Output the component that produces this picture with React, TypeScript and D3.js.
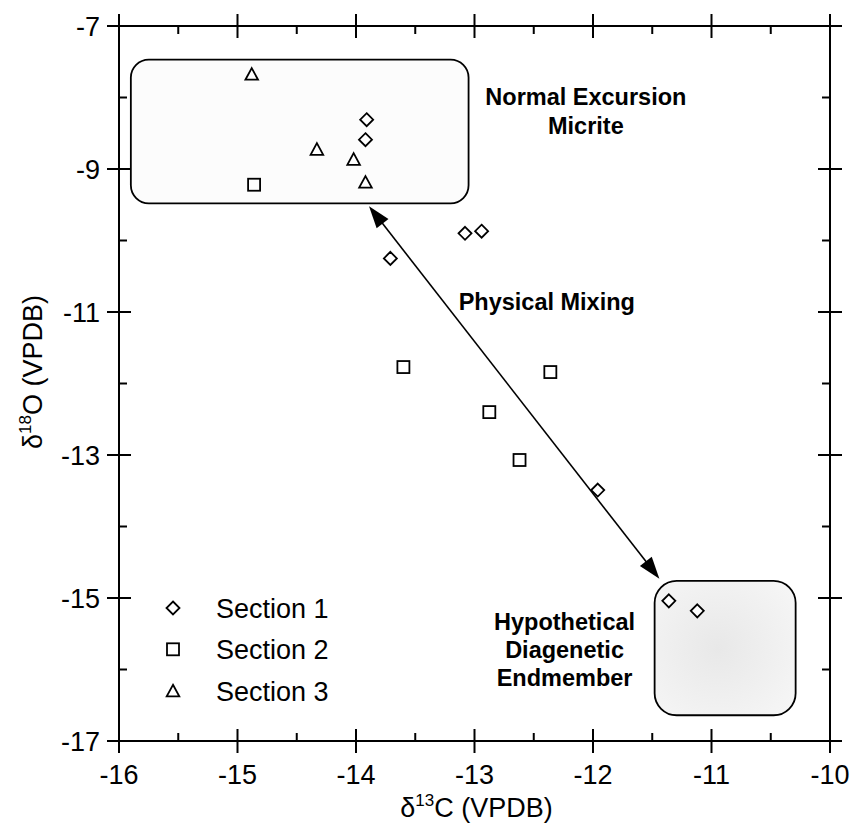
import React from "react";
import * as d3 from "d3";

// ---- data ----
const section1X = [-13.91, -13.92, -13.08, -12.94, -13.71, -11.96, -11.36, -11.12];
const section1Y = [-8.31, -8.59, -9.9, -9.87, -10.25, -13.49, -15.04, -15.18];
const section2X = [-14.86, -13.6, -12.36, -12.875, -12.62];
const section2Y = [-9.22, -11.77, -11.84, -12.4, -13.07];
const section3X = [-14.88, -14.33, -14.02, -13.92];
const section3Y = [-7.67, -8.72, -8.86, -9.18];

const seriesNames = ["Section 1", "Section 2", "Section 3"];
const xTicks = [-16, -15, -14, -13, -12, -11, -10];
const yTicks = [-7, -9, -11, -13, -15, -17];
const xMinor = [-15.5, -14.5, -13.5, -12.5, -11.5, -10.5];
const yMinor = [-8, -10, -12, -14, -16];

// annotation boxes in data coords [x1, x2, yTop, yBottom]
const boxMicrite = [-15.9, -13.05, -7.47, -9.48];
const boxEndmember = [-11.48, -10.29, -14.76, -16.64];
// mixing arrow endpoints [x1, y1, x2, y2]
const mixingArrow = [-13.89, -9.52, -11.44, -14.73];

const labelNormal = ["Normal Excursion", "Micrite"];
const labelEndmember = ["Hypothetical", "Diagenetic", "Endmember"];
const labelMixing = "Physical Mixing";

const W = 851;
const H = 826;
const FONT = "'Liberation Sans', Arial, Helvetica, sans-serif";

function Marker({ kind, x, y }: { kind: number; x: number; y: number }) {
  const sw = 1.8;
  if (kind === 0) {
    const r = 6.5;
    return (
      <path
        d={`M${x},${y - r}L${x + r},${y}L${x},${y + r}L${x - r},${y}Z`}
        fill="white"
        stroke="black"
        strokeWidth={sw}
      />
    );
  }
  if (kind === 1) {
    const s = 12;
    return (
      <rect x={x - s / 2} y={y - s / 2} width={s} height={s} fill="white" stroke="black" strokeWidth={sw} />
    );
  }
  const hw = 6.3;
  const hh = 5.8;
  return (
    <path
      d={`M${x},${y - hh}L${x + hw},${y + hh}L${x - hw},${y + hh}Z`}
      fill="white"
      stroke="black"
      strokeWidth={sw}
    />
  );
}

export default function App() {
  const x = d3.scaleLinear().domain([-16, -10]).range([119, 830]);
  const y = d3.scaleLinear().domain([-17, -7]).range([741, 26]);

  const [x0, x1] = x.range();
  const [y0, y1] = y.range(); // y0 bottom, y1 top

  const series = [
    section1X.map((v, i) => [v, section1Y[i]]),
    section2X.map((v, i) => [v, section2Y[i]]),
    section3X.map((v, i) => [v, section3Y[i]]),
  ];

  const ax = x(mixingArrow[0]);
  const ay = y(mixingArrow[1]);
  const bx = x(mixingArrow[2]);
  const by = y(mixingArrow[3]);
  const len = Math.hypot(bx - ax, by - ay);
  const ux = (bx - ax) / len;
  const uy = (by - ay) / len;
  const headL = 22;
  const headW = 7.5;
  const head = (tx: number, ty: number, dx: number, dy: number) => {
    const bxp = tx - dx * headL;
    const byp = ty - dy * headL;
    return `M${tx},${ty}L${bxp - dy * headW},${byp + dx * headW}L${bxp + dy * headW},${byp - dx * headW}Z`;
  };

  const major = 12;
  const minor = 8;
  const axisSW = 2;

  return (
    <svg
      width={W}
      height={H}
      style={{ position: "absolute", left: 0, top: 0, background: "white" }}
      fontFamily={FONT}
    >
      <defs>
        <radialGradient id="stip" cx="0.45" cy="0.5" r="0.7">
          <stop offset="0%" stopColor="#e8e8e8" />
          <stop offset="100%" stopColor="#f6f6f6" />
        </radialGradient>
      </defs>
      <rect x={0} y={0} width={W} height={H} fill="white" />

      {/* boxes */}
      <rect
        x={x(boxMicrite[0])}
        y={y(boxMicrite[2])}
        width={x(boxMicrite[1]) - x(boxMicrite[0])}
        height={y(boxMicrite[3]) - y(boxMicrite[2])}
        rx={18}
        ry={18}
        fill="#fcfcfc"
        stroke="black"
        strokeWidth={1.8}
      />
      <rect
        x={x(boxEndmember[0])}
        y={y(boxEndmember[2])}
        width={x(boxEndmember[1]) - x(boxEndmember[0])}
        height={y(boxEndmember[3]) - y(boxEndmember[2])}
        rx={22}
        ry={22}
        fill="url(#stip)"
        stroke="black"
        strokeWidth={1.8}
      />

      {/* arrow */}
      <line
        x1={ax + ux * headL * 0.8}
        y1={ay + uy * headL * 0.8}
        x2={bx - ux * headL * 0.8}
        y2={by - uy * headL * 0.8}
        stroke="black"
        strokeWidth={1.6}
      />
      <path d={head(ax, ay, -ux, -uy)} fill="black" />
      <path d={head(bx, by, ux, uy)} fill="black" />

      {/* frame */}
      <g stroke="black" strokeWidth={axisSW} fill="none">
        <line x1={x0} y1={y0} x2={x1} y2={y0} />
        <line x1={x0} y1={y1} x2={x1} y2={y1} />
        <line x1={x0} y1={y0} x2={x0} y2={y1} />
        <line x1={x1} y1={y0} x2={x1} y2={y1} />
        {xTicks.map((t) => (
          <g key={"xt" + t}>
            <line x1={x(t)} x2={x(t)} y1={y0 - major} y2={y0 + major} />
            <line x1={x(t)} x2={x(t)} y1={y1 - major} y2={y1 + major} />
          </g>
        ))}
        {xMinor.map((t) => (
          <g key={"xm" + t}>
            <line x1={x(t)} x2={x(t)} y1={y0 - minor} y2={y0} />
            <line x1={x(t)} x2={x(t)} y1={y1} y2={y1 + minor} />
          </g>
        ))}
        {yTicks.map((t) => (
          <g key={"yt" + t}>
            <line x1={x0 - major} x2={x0 + major} y1={y(t)} y2={y(t)} />
            <line x1={x1 - major} x2={x1 + major} y1={y(t)} y2={y(t)} />
          </g>
        ))}
        {yMinor.map((t) => (
          <g key={"ym" + t}>
            <line x1={x0} x2={x0 + minor} y1={y(t)} y2={y(t)} />
            <line x1={x1 - minor} x2={x1} y1={y(t)} y2={y(t)} />
          </g>
        ))}
      </g>

      {/* tick labels */}
      <g fontSize={27} fill="black">
        {xTicks.map((t) => (
          <text key={"xl" + t} x={x(t)} y={y0 + 43} textAnchor="middle">
            {d3.format("d")(t).replace("−", "-")}
          </text>
        ))}
        {yTicks.map((t) => (
          <text key={"yl" + t} x={x0 - 19} y={y(t) + 9.5} textAnchor="end">
            {d3.format("d")(t).replace("−", "-")}
          </text>
        ))}
      </g>

      {/* axis titles */}
      <text x={(x0 + x1) / 2 + 2} y={817} textAnchor="middle" fontSize={27}>
        δ<tspan fontSize={17} dy={-11}>13</tspan>
        <tspan dy={11}>C (VPDB)</tspan>
      </text>
      <text transform={`translate(42,372) rotate(-90)`} textAnchor="middle" fontSize={27}>
        δ<tspan fontSize={17} dy={-11}>18</tspan>
        <tspan dy={11}>O (VPDB)</tspan>
      </text>

      {/* points */}
      {series.map((pts, si) =>
        pts.map((p, i) => <Marker key={si + "-" + i} kind={si} x={x(p[0])} y={y(p[1])} />)
      )}

      {/* annotations */}
      <g fontSize={23.5} fontWeight="bold" textAnchor="middle">
        <text x={x(-12.06)} y={y(-7.99) + 8}>{labelNormal[0]}</text>
        <text x={x(-12.06)} y={y(-8.4) + 8}>{labelNormal[1]}</text>
        {labelEndmember.map((s, i) => (
          <text key={s} x={x(-12.24)} y={y([-15.34, -15.73, -16.12][i]) + 8}>
            {s}
          </text>
        ))}
        <text x={x(-12.39)} y={y(-10.97)}>{labelMixing}</text>
      </g>

      {/* legend */}
      {seriesNames.map((n, i) => {
        const ly = 608 + i * 41.3;
        return (
          <g key={n}>
            <Marker kind={i} x={173} y={ly} />
            <text x={216} y={ly + 10} fontSize={27}>
              {n}
            </text>
          </g>
        );
      })}
    </svg>
  );
}
